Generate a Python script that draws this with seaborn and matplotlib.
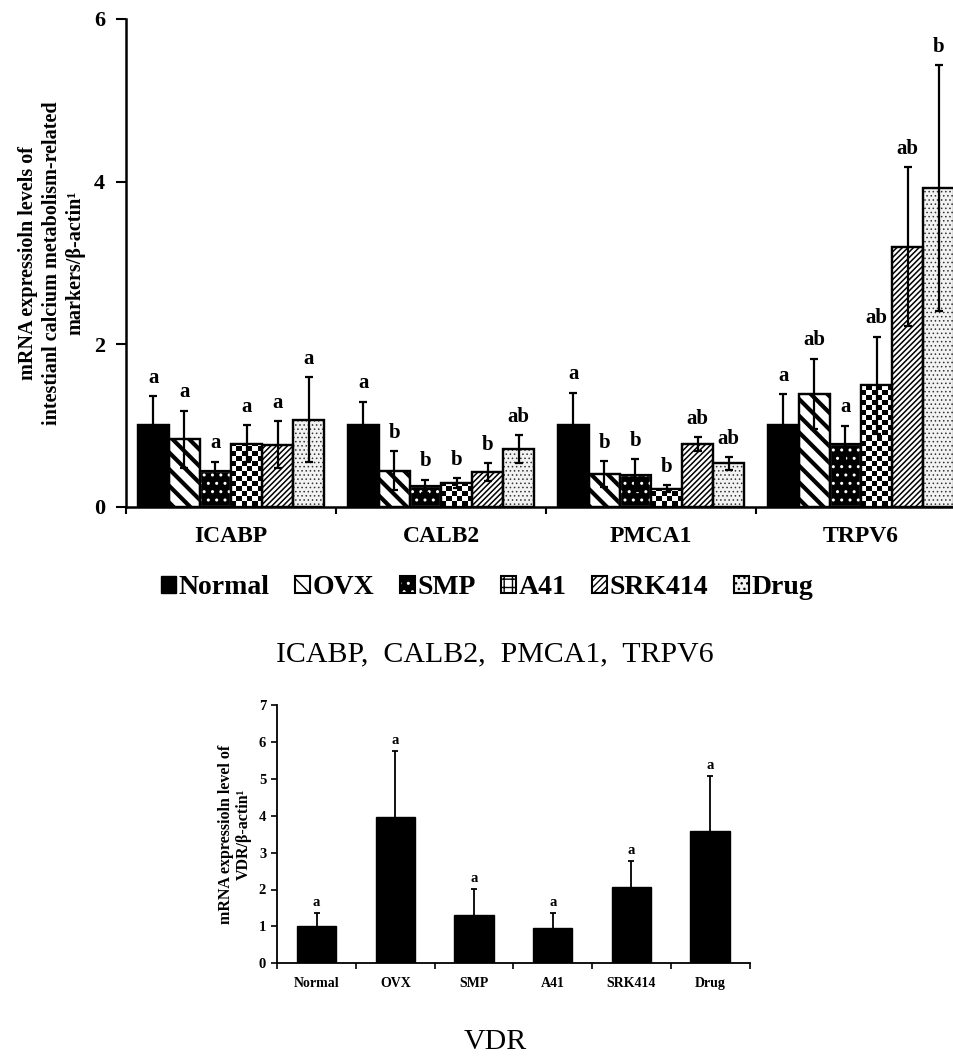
import numpy as np
import pandas as pd
import matplotlib
matplotlib.use("Agg")
import matplotlib.pyplot as plt
import seaborn as sns
from matplotlib.patches import Patch, Rectangle
from matplotlib.legend_handler import HandlerTuple

# ---------------------------------------------------------------- data
markers = ["ICABP", "CALB2", "PMCA1", "TRPV6"]
groups = ["Normal", "OVX", "SMP", "A41", "SRK414", "Drug"]

# mean relative expression per marker (ICABP, CALB2, PMCA1, TRPV6)
normal = [1.00, 1.00, 1.00, 1.00]
ovx = [0.83, 0.44, 0.40, 1.39]
smp = [0.44, 0.25, 0.385, 0.775]
a41 = [0.775, 0.29, 0.22, 1.49]
srk414 = [0.76, 0.42, 0.77, 3.20]
drug = [1.07, 0.71, 0.53, 3.92]

# standard deviations
normal_sd = [0.36, 0.29, 0.40, 0.38]
ovx_sd = [0.35, 0.24, 0.16, 0.43]
smp_sd = [0.11, 0.08, 0.195, 0.22]
a41_sd = [0.225, 0.06, 0.04, 0.60]
srk414_sd = [0.29, 0.11, 0.085, 0.98]
drug_sd = [0.52, 0.17, 0.08, 1.51]

# significance letters
normal_sig = ["a", "a", "a", "a"]
ovx_sig = ["a", "b", "b", "ab"]
smp_sig = ["a", "b", "b", "a"]
a41_sig = ["a", "b", "b", "ab"]
srk414_sig = ["a", "b", "ab", "ab"]
drug_sig = ["a", "ab", "ab", "b"]

# VDR expression per group
vdr = [1.01, 3.96, 1.32, 0.96, 2.08, 3.59]
vdr_sd = [0.36, 1.78, 0.69, 0.39, 0.69, 1.49]
vdr_sig = ["a", "a", "a", "a", "a", "a"]

means = [normal, ovx, smp, a41, srk414, drug]
sds = [normal_sd, ovx_sd, smp_sd, a41_sd, srk414_sd, drug_sd]
sigs = [normal_sig, ovx_sig, smp_sig, a41_sig, srk414_sig, drug_sig]

df = pd.DataFrame({
    "marker": [m for _ in groups for m in markers],
    "group": [g for g in groups for _ in markers],
    "value": [v for row in means for v in row],
})
df_vdr = pd.DataFrame({"group": groups, "value": vdr})

# ---------------------------------------------------------------- style
sns.set_theme(style="white")
plt.rcParams["font.family"] = ["Liberation Serif", "DejaVu Serif"]
plt.rcParams["font.weight"] = "bold"
plt.rcParams["axes.labelweight"] = "bold"
plt.rcParams["hatch.linewidth"] = 1.0
for key in ("text.color", "axes.labelcolor", "xtick.color", "ytick.color",
            "axes.edgecolor"):
    plt.rcParams[key] = "black"

fig = plt.figure(figsize=(9.54, 10.56), dpi=100)
W, H = 954, 1056


def px_axes(left, top, right, bottom):
    return fig.add_axes([left / W, 1 - bottom / H, (right - left) / W, (bottom - top) / H])


ax = px_axes(126, 19, 966, 506.5)
ax2 = px_axes(277.3, 705, 749.5, 963.3)

# ---------------------------------------------------------------- top panel
sns.barplot(data=df, x="marker", y="value", hue="group", order=markers,
            hue_order=groups, palette=["white"] * len(groups), width=0.89,
            errorbar=None, legend=False, ax=ax, saturation=1)
ax.set_xlim(-0.5, 3.5)
ax.set_ylim(0, 6)


def set_hlw(p, lw):
    if hasattr(p, "set_hatch_linewidth"):
        p.set_hatch_linewidth(lw)


def checker_fill(axis, patch, cell_px=5.0):
    x0, y0 = patch.get_x(), patch.get_y()
    w, h = patch.get_width(), patch.get_height()
    (px0, py0), (px1, py1) = axis.transData.transform([(x0, y0), (x0 + w, y0 + h)])
    nc = max(1, int(round(abs(px1 - px0) / cell_px)))
    cell_y = h / abs(py1 - py0) * cell_px if abs(py1 - py0) > 0 else h
    nr = max(1, int(np.ceil(h / cell_y)))
    board = (np.add.outer(np.arange(nr), np.arange(nc)) % 2).astype(float)
    im = axis.imshow(board, cmap="gray", vmin=0, vmax=1,
                     extent=(x0, x0 + w, y0, y0 + nr * cell_y), origin="lower",
                     interpolation="nearest", aspect="auto", zorder=2.05)
    im.set_clip_path(patch)


bar_sets = [list(c.patches) for c in ax.containers]
for gi, patches in enumerate(bar_sets):
    for p in patches:
        p.set_linewidth(1.6)
        p.set_edgecolor("black")
        p.set_zorder(2)
        if gi == 0:
            p.set_facecolor("black")
        elif gi == 1:
            p.set_facecolor("white")
            p.set_hatch("\\\\")
            set_hlw(p, 3.0)
        elif gi == 2:
            p.set_facecolor("black")
            p.set_edgecolor("white")
            p.set_hatch("..")
            set_hlw(p, 1.0)
        elif gi == 3:
            p.set_facecolor("white")
            checker_fill(ax, p)
        elif gi == 4:
            p.set_facecolor("white")
            p.set_hatch("//////")
            set_hlw(p, 1.1)
        else:
            p.set_facecolor("#f2f2f2")
            p.set_hatch("....")
            p.set_edgecolor("#333333")
            set_hlw(p, 0.6)
        # crisp black outline over every bar
        ax.add_patch(Rectangle((p.get_x(), p.get_y()), p.get_width(), p.get_height(),
                               fill=False, edgecolor="black", linewidth=1.6, zorder=2.1))

    xs = [p.get_x() + p.get_width() / 2 for p in patches]
    ys = [p.get_height() for p in patches]
    ax.errorbar(xs, ys, yerr=sds[gi], fmt="none", ecolor="black", elinewidth=1.6,
                capsize=3, capthick=1.6, zorder=3)
    for x, y, e, s in zip(xs, ys, sds[gi], sigs[gi]):
        ax.annotate(s, (x, y + e), xytext=(0, 6), textcoords="offset points",
                    ha="center", va="bottom", fontsize=15, fontweight="bold")

ax.set_xlim(-0.5, 3.5)
ax.set_ylim(0, 6)
ax.set_yticks([0, 2, 4, 6])
ax.set_xticks(range(len(markers)))
ax.set_xticklabels(markers, fontsize=17, fontweight="bold")
ax.set_xticks([-0.5, 0.5, 1.5, 2.5], minor=True)
ax.tick_params(axis="x", which="major", bottom=False, length=0, pad=14)
ax.tick_params(axis="x", which="minor", bottom=True, length=5, width=1.5,
               direction="out", color="black")
ax.tick_params(axis="y", left=True, length=7, width=1.5, direction="out",
               labelsize=16, pad=8, color="black")
for lab in ax.get_yticklabels():
    lab.set_fontweight("bold")
for side in ("top", "right"):
    ax.spines[side].set_visible(False)
for side in ("left", "bottom"):
    ax.spines[side].set_linewidth(1.8)
    ax.spines[side].set_color("black")
ax.set_xlabel("")
ax.set_ylabel("mRNA expressioln levels of\nintestianl calcium metabolism-related\nmarkers/β-actin¹",
              fontsize=14.5, fontweight="bold", linespacing=1.25, labelpad=6)

# legend
h_normal = Patch(facecolor="black", edgecolor="black")
h_ovx = Patch(facecolor="white", edgecolor="black", hatch="\\\\", linewidth=1.5)
h_smp = (Patch(facecolor="black", edgecolor="white", hatch="..", linewidth=0),
         Patch(fill=False, edgecolor="black", linewidth=1.5))
h_a41 = Patch(facecolor="white", edgecolor="black", hatch="++", linewidth=1.5)
h_srk = Patch(facecolor="white", edgecolor="black", hatch="/////", linewidth=1.5)
h_drug = Patch(facecolor="#f2f2f2", edgecolor="black", hatch="...", linewidth=1.5)
fig.legend([h_normal, h_ovx, h_smp, h_a41, h_srk, h_drug], groups,
           loc="center", bbox_to_anchor=(487 / W, 1 - 588 / H), ncol=6,
           frameon=False, handlelength=0.55, handleheight=0.55,
           handletextpad=0.1, columnspacing=0.9, borderpad=0,
           prop={"family": "Liberation Serif", "weight": "bold", "size": 20},
           handler_map={tuple: HandlerTuple(ndivide=1, pad=0)})

fig.text(494.5 / W, 1 - 654 / H, "ICABP,  CALB2,  PMCA1,  TRPV6", ha="center",
         va="center", fontsize=21.5, fontweight="normal", color="black")

# ---------------------------------------------------------------- VDR panel
sns.barplot(data=df_vdr, x="group", y="value", order=groups, color="black",
            width=0.5, errorbar=None, ax=ax2, saturation=1)
bars = list(ax2.patches)
xs = [p.get_x() + p.get_width() / 2 for p in bars]
ys = [p.get_height() for p in bars]
for p in bars:
    p.set_facecolor("black")
    p.set_edgecolor("black")
ax2.errorbar(xs, ys, yerr=vdr_sd, fmt="none", ecolor="black", elinewidth=1.3,
             capsize=2.2, capthick=1.3, zorder=3)
for x, y, e, s in zip(xs, ys, vdr_sd, vdr_sig):
    ax2.annotate(s, (x, y + e), xytext=(0, 3), textcoords="offset points",
                 ha="center", va="bottom", fontsize=10.5, fontweight="bold")

ax2.set_xlim(-0.5, 5.5)
ax2.set_ylim(0, 7)
ax2.set_yticks(range(0, 8))
ax2.set_xticks([-0.5, 0.5, 1.5, 2.5, 3.5, 4.5, 5.5], minor=True)
ax2.tick_params(axis="x", which="major", bottom=False, length=0, pad=10, labelsize=10)
ax2.tick_params(axis="x", which="minor", bottom=True, length=4, width=1.2,
                direction="out", color="black")
ax2.tick_params(axis="y", left=True, length=4, width=1.2, direction="out",
                labelsize=10.5, pad=4, color="black")
for lab in ax2.get_xticklabels() + ax2.get_yticklabels():
    lab.set_fontweight("bold")
for side in ("top", "right"):
    ax2.spines[side].set_visible(False)
for side in ("left", "bottom"):
    ax2.spines[side].set_linewidth(1.3)
    ax2.spines[side].set_color("black")
ax2.set_xlabel("")
ax2.set_ylabel("mRNA expressioln level of\nVDR/β-actin¹", fontsize=11.5,
               fontweight="bold", linespacing=1.15, labelpad=5)

fig.text(495 / W, 1 - 1042 / H, "VDR", ha="center", va="center",
         fontsize=21.5, fontweight="normal", color="black")

fig.savefig("out.png", dpi=100, facecolor="white")
